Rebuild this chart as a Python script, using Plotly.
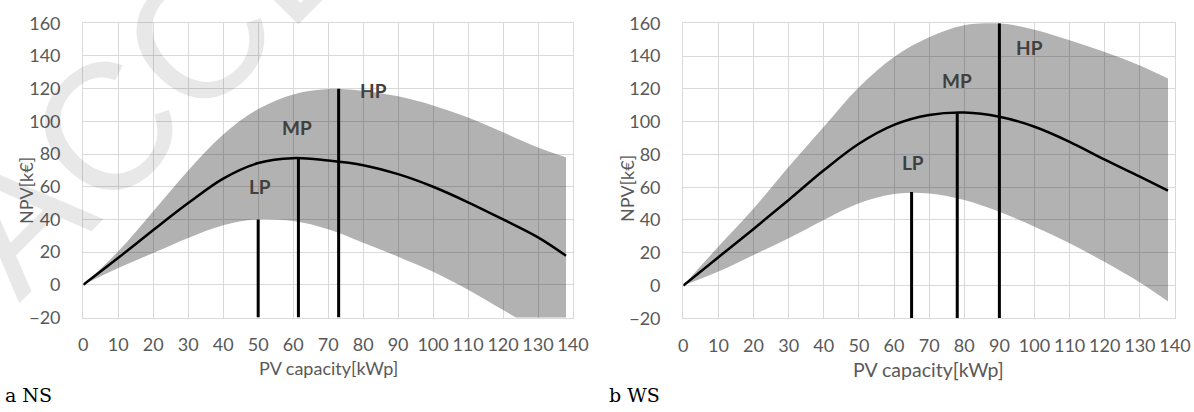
import plotly.graph_objects as go

# ---------------- data ----------------
pv_capacity = [0, 10, 20, 30, 40, 50, 60, 70, 80, 90, 100, 110, 120, 130, 138]

ns_mean = [0, 16.5, 33.5, 50, 65, 74.5, 77.5, 76, 73.2, 67.7, 60, 50.5, 40, 29, 17.8]
ns_upper = [0, 20.5, 45, 70, 92, 107.5, 116.5, 119.8, 118.6, 115.3, 109.7, 102.3, 93.3, 84, 78]
ns_lower = [0, 10.3, 19.5, 28.7, 36.5, 40, 39, 34, 25.8, 17.2, 8, -3, -15.4, -28, -38]

ws_mean = [0, 17.3, 34.5, 52.2, 70.3, 86.5, 98, 104, 105.5, 103, 96.9, 87.7, 76.8, 66.4, 57.9]
ws_upper = [0, 23.8, 47, 72.5, 96.9, 121, 139.5, 151.5, 158.8, 160, 156, 149.6, 142.5, 134.3, 126.3]
ws_lower = [0, 8.5, 18.7, 28.8, 40, 50.2, 55.8, 56.2, 52.2, 45, 35.9, 25.8, 14.3, 1.8, -9.7]

price_labels = ["LP", "MP", "HP"]
ns_opt_x = [50, 61.5, 73]
ns_opt_y = [40, 77.7, 120]
ns_label_x = [50.5, 61, 83]
ns_label_y = [60, 96, 119]

ws_opt_x = [65, 78, 90]
ws_opt_y = [57, 105.5, 160]
ws_label_x = [65.5, 78, 98.5]
ws_label_y = [75, 125, 145]

x_ticks = list(range(0, 141, 10))
y_ticks = list(range(-20, 161, 20))
y_min = -20

# ---------------- figure ----------------
fig = go.Figure()
FILL = "rgba(0,0,0,0.3)"
GRID = "#d9d9d9"
TICKC = "#595959"
FONT = "Lato, 'Open Sans', sans-serif"
SMOOTH = 1.0

panels = [
    ("x", "y", ns_mean, ns_upper, ns_lower, ns_opt_x, ns_opt_y, ns_label_x, ns_label_y),
    ("x2", "y2", ws_mean, ws_upper, ws_lower, ws_opt_x, ws_opt_y, ws_label_x, ws_label_y),
]

for xa, ya, mean, up, lo, ox, oy, lx, ly in panels:
    fig.add_trace(go.Scatter(x=pv_capacity, y=lo, mode="lines",
                             line=dict(width=0, shape="spline", smoothing=SMOOTH),
                             xaxis=xa, yaxis=ya, showlegend=False, hoverinfo="skip"))
    fig.add_trace(go.Scatter(x=pv_capacity, y=up, mode="lines",
                             line=dict(width=0, shape="spline", smoothing=SMOOTH),
                             fill="tonexty", fillcolor=FILL,
                             xaxis=xa, yaxis=ya, showlegend=False, hoverinfo="skip"))
    fig.add_trace(go.Scatter(x=pv_capacity, y=mean, mode="lines",
                             line=dict(color="black", width=2.5, shape="spline", smoothing=SMOOTH),
                             xaxis=xa, yaxis=ya, showlegend=False))
    for vx, vy in zip(ox, oy):
        fig.add_trace(go.Scatter(x=[vx, vx], y=[y_min, vy], mode="lines",
                                 line=dict(color="black", width=3),
                                 xaxis=xa, yaxis=ya, showlegend=False))
    for t, tx, ty in zip(price_labels, lx, ly):
        fig.add_annotation(x=tx, y=ty, xref=xa, yref=ya, text="<b>%s</b>" % t, showarrow=False,
                           xanchor="center", yanchor="middle",
                           font=dict(family=FONT, size=19, color="#404040"))

W, H = 1194, 412
def fx(p):
    return p / W
def fy(p):
    return (H - p) / H

axis_common = dict(showgrid=True, gridcolor=GRID, gridwidth=1.3, zeroline=True, zerolinecolor=GRID,
                   zerolinewidth=1.3, showline=True, linecolor=GRID, linewidth=1.3, mirror=True,
                   ticks="", automargin=False, tickfont=dict(family=FONT, size=18, color=TICKC))

fig.update_layout(
    width=W, height=H,
    margin=dict(l=0, r=0, t=0, b=0, autoexpand=False),
    paper_bgcolor="white", plot_bgcolor="white",
    xaxis=dict(domain=[fx(83.3), fx(573)], range=[0, 140], tickvals=x_ticks, anchor="y",
               ticklabelstandoff=11, **axis_common),
    yaxis=dict(domain=[fy(317.5), fy(23.3)], range=[-20, 160], tickvals=y_ticks, anchor="x",
               ticklabelstandoff=18, **axis_common),
    xaxis2=dict(domain=[fx(683.3), fx(1175)], range=[0, 140], tickvals=x_ticks, anchor="y2",
                ticklabelstandoff=11, **axis_common),
    yaxis2=dict(domain=[fy(318.3), fy(23.3)], range=[-20, 160], tickvals=y_ticks, anchor="x2",
                ticklabelstandoff=18, **axis_common),
)

def paper_text(px, py, text, size, color=TICKC, family=FONT, angle=0, xanchor="center"):
    fig.add_annotation(x=fx(px), y=fy(py), xref="paper", yref="paper", text=text, textangle=angle,
                       showarrow=False, xanchor=xanchor, yanchor="middle",
                       font=dict(family=family, size=size, color=color))

# faint watermark (partially visible, as in the reference)
paper_text(760, -525, "ACCEPTED MANUSCRIPT", 180, color="rgba(0,0,0,0.09)",
           family="'Liberation Sans', Arial, sans-serif", angle=-45)

# axis titles
paper_text(328, 368, "PV capacity[kWp]", 18)
paper_text(928, 369, "PV capacity[kWp]", 19.5)
paper_text(26, 191, "NPV[k€]", 18, angle=-90)
paper_text(627, 189, "NPV[k€]", 18, angle=-90)

# captions
SERIF = "'DejaVu Serif', 'Liberation Serif', serif"
paper_text(3, 395, "a NS", 19, color="black", family=SERIF, xanchor="left")
paper_text(607, 395, "b WS", 19, color="black", family=SERIF, xanchor="left")

# remove the default 8px page margin so the figure fills the window exactly
fig.write_html("out.html", config={"displayModeBar": False},
               post_script="document.body.style.margin='0';")
